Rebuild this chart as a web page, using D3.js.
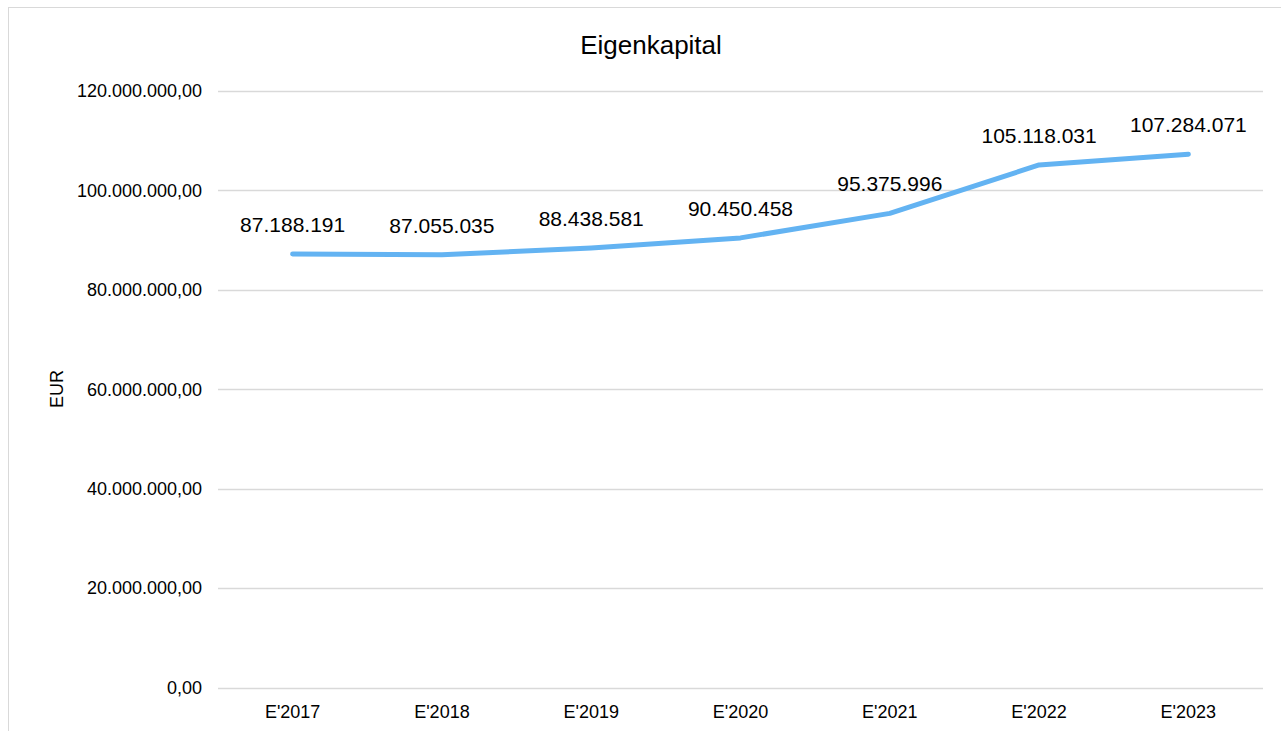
<!DOCTYPE html>
<html><head><meta charset="utf-8">
<script src="https://cdn.jsdelivr.net/npm/d3@7/dist/d3.min.js"></script>
<style>body{margin:0;background:#fff;font-family:"Liberation Sans",Arial,sans-serif}</style>
</head><body><svg id="c" width="1281" height="731"></svg>
<script>
const categories = ["E'2017","E'2018","E'2019","E'2020","E'2021","E'2022","E'2023"];
const values = [87188191, 87055035, 88438581, 90450458, 95375996, 105118031, 107284071];
const valueLabels = ["87.188.191","87.055.035","88.438.581","90.450.458","95.375.996","105.118.031","107.284.071"];
const yTicks = [0, 20000000, 40000000, 60000000, 80000000, 100000000, 120000000];
const yTickLabels = ["0,00","20.000.000,00","40.000.000,00","60.000.000,00","80.000.000,00","100.000.000,00","120.000.000,00"];
const title = "Eigenkapital";
const yTitle = "EUR";

(function(){
const svg = d3.select("#c");
svg.append("rect").attr("x",8.5).attr("y",7.5).attr("width",1290).attr("height",740)
  .attr("fill","#fff").attr("stroke","#d9d9d9").attr("stroke-width",1);

const pL=218, pR=1263, pT=91, pB=687.5;
const x = d3.scaleBand().domain(categories).range([pL,pR]);
const y = d3.scaleLinear().domain([0,120000000]).range([pB,pT]);

svg.append("g").selectAll("line").data(yTicks).join("line")
  .attr("x1",pL).attr("x2",pR).attr("y1",d=>Math.round(y(d))+0.5).attr("y2",d=>Math.round(y(d))+0.5)
  .attr("stroke","#d9d9d9").attr("stroke-width",1.3);

svg.append("g").selectAll("text").data(yTicks).join("text")
  .attr("x",202).attr("y",d=>y(d)).attr("dy","0.35em").attr("text-anchor","end")
  .attr("font-size",18).attr("fill","#000").text((d,i)=>yTickLabels[i]);

svg.append("g").selectAll("text").data(categories).join("text")
  .attr("x",d=>x(d)+x.bandwidth()/2).attr("y",718).attr("text-anchor","middle")
  .attr("font-size",18).attr("fill","#000").text(d=>d);

svg.append("text").attr("x",651).attr("y",54).attr("text-anchor","middle")
  .attr("font-size",26).attr("fill","#000").text(title);

svg.append("text").attr("transform","translate(63,389) rotate(-90)").attr("text-anchor","middle")
  .attr("font-size",18).attr("fill","#000").text(yTitle);

const line = d3.line().x((d,i)=>x(categories[i])+x.bandwidth()/2).y(d=>y(d));
svg.append("path").datum(values).attr("d",line).attr("fill","none")
  .attr("stroke","#63b3f2").attr("stroke-width",5).attr("stroke-linecap","round").attr("stroke-linejoin","round");

svg.append("g").selectAll("text").data(values).join("text")
  .attr("x",(d,i)=>x(categories[i])+x.bandwidth()/2).attr("y",d=>y(d)-22)
  .attr("text-anchor","middle").attr("font-size",21).attr("fill","#000")
  .text((d,i)=>valueLabels[i]);
})();
</script></body></html>
